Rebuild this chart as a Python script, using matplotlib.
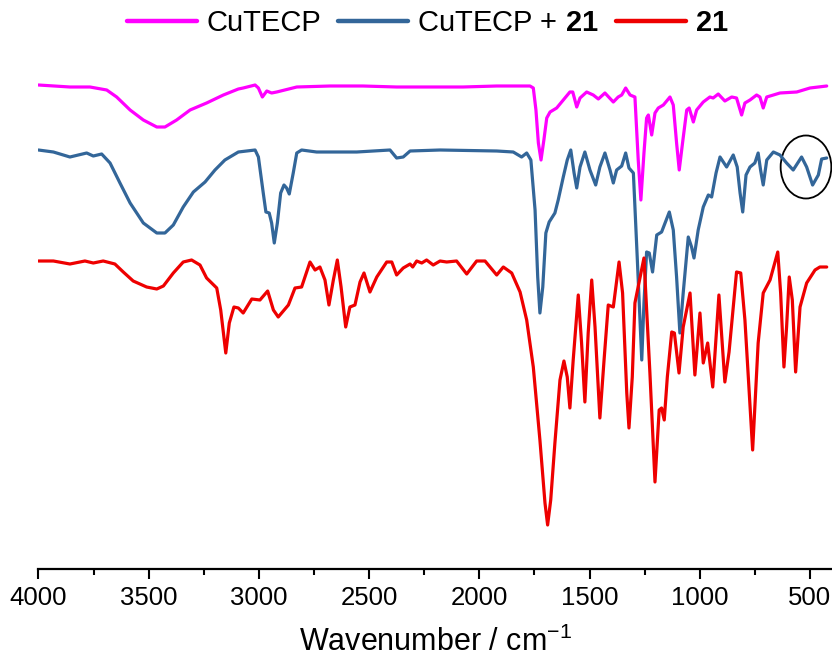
import matplotlib
matplotlib.use("Agg")
import matplotlib.pyplot as plt
from matplotlib.patches import Ellipse

plt.rcParams["font.family"] = ["Liberation Sans", "DejaVu Sans"]
plt.rcParams["mathtext.fontset"] = "custom"
plt.rcParams["mathtext.rm"] = "Liberation Sans"
plt.rcParams["mathtext.bf"] = "Liberation Sans:bold"

# ── Spectra (wavenumber / cm-1, transmittance in offset arbitrary units) ─────
cutecp_wn = [4000, 3857, 3766, 3690, 3645, 3584, 3524, 3463, 3426, 3373, 3312,
             3237, 3161, 3093, 3071, 3017, 3002, 2984, 2964, 2942, 2919, 2828,
             2677, 2528, 2375, 2178, 2074, 1921, 1770, 1755, 1743, 1732, 1720,
             1707, 1694, 1679, 1649, 1619, 1589, 1576, 1558, 1543, 1513, 1483,
             1460, 1430, 1392, 1370, 1354, 1336, 1316, 1294, 1279, 1267, 1253,
             1241, 1233, 1218, 1203, 1188, 1165, 1135, 1120, 1105, 1093, 1078,
             1059, 1048, 1029, 1014, 984, 954, 939, 916, 886, 855, 833, 810,
             795, 772, 742, 727, 712, 696, 636, 560, 500, 424]
cutecp_t = [484, 482, 482, 479, 472, 459, 449, 442, 442, 449, 459,
            466, 474, 480, 481, 484, 481, 472, 478, 476, 477, 482,
            483, 483, 482, 482, 482, 483, 483, 481, 459, 426, 409,
            429, 451, 457, 461, 469, 477, 477, 462, 471, 477, 474,
            470, 476, 467, 472, 474, 481, 474, 472, 409, 369, 416,
            451, 454, 434, 456, 461, 464, 472, 464, 426, 399, 426,
            459, 461, 447, 459, 467, 472, 471, 475, 468, 472, 471, 454,
            466, 469, 474, 472, 461, 472, 476, 477, 481, 483]

mix_wn = [4000, 3932, 3857, 3781, 3751, 3713, 3675, 3630, 3584, 3524, 3463,
          3426, 3388, 3343, 3297, 3244, 3199, 3154, 3093, 3017, 3002, 2980,
          2968, 2953, 2942, 2930, 2916, 2901, 2886, 2874, 2862, 2844, 2828,
          2806, 2738, 2556, 2405, 2375, 2345, 2314, 2178, 1921, 1846, 1808,
          1785, 1766, 1747, 1735, 1725, 1712, 1698, 1683, 1657, 1642, 1619,
          1601, 1585, 1570, 1558, 1543, 1521, 1498, 1472, 1453, 1430, 1407,
          1392, 1377, 1354, 1336, 1321, 1301, 1283, 1263, 1253, 1241, 1229,
          1214, 1195, 1173, 1138, 1120, 1105, 1090, 1075, 1052, 1037, 1026,
          1007, 984, 961, 946, 926, 908, 878, 848, 830, 817, 805, 790, 772,
          750, 735, 724, 712, 696, 666, 636, 606, 576, 538, 515, 488, 462,
          447, 424]
mix_t = [419, 417, 412, 416, 413, 415, 406, 386, 366, 346, 336,
         336, 344, 362, 377, 387, 399, 409, 417, 419, 412, 376,
         357, 356, 346, 326, 346, 376, 384, 381, 375, 396, 416,
         419, 417, 417, 419, 411, 412, 418, 419, 418, 417, 412,
         416, 409, 359, 292, 256, 282, 336, 347, 356, 369, 392,
         409, 419, 396, 381, 402, 417, 399, 384, 402, 416, 399,
         386, 399, 403, 416, 401, 396, 309, 209, 266, 317, 316,
         297, 334, 337, 357, 339, 292, 236, 276, 332, 322, 311,
         339, 362, 374, 372, 396, 412, 402, 414, 402, 376, 357, 394, 402,
         406, 416, 399, 384, 409, 417, 414, 406, 399, 412, 402, 384, 394,
         410, 411]

lig_wn = [4000, 3932, 3857, 3789, 3751, 3706, 3653, 3615, 3570, 3509, 3463,
          3433, 3388, 3343, 3305, 3267, 3237, 3191, 3173, 3150, 3134, 3113,
          3093, 3071, 3032, 2995, 2960, 2934, 2912, 2866, 2836, 2806, 2768,
          2745, 2723, 2700, 2682, 2662, 2644, 2627, 2606, 2587, 2564, 2541,
          2523, 2496, 2465, 2420, 2397, 2375, 2345, 2314, 2302, 2284, 2261,
          2239, 2209, 2178, 2148, 2103, 2057, 2012, 1974, 1921, 1891, 1853,
          1815, 1785, 1755, 1725, 1702, 1690, 1676, 1657, 1634, 1616, 1601,
          1589, 1574, 1551, 1536, 1521, 1506, 1490, 1475, 1453, 1434, 1415,
          1392, 1366, 1350, 1331, 1321, 1306, 1294, 1253, 1226, 1203, 1184,
          1173, 1161, 1147, 1127, 1115, 1094, 1075, 1044, 1022, 999, 984,
          964, 941, 913, 886, 867, 833, 814, 795, 760, 735, 712, 681, 646,
          633, 618, 606, 594, 580, 565, 545, 515, 477, 455, 424]
lig_t = [308, 308, 305, 308, 306, 308, 305, 297, 288, 282, 280,
         283, 296, 307, 309, 304, 291, 281, 259, 216, 246, 262,
         261, 256, 270, 269, 278, 259, 252, 264, 281, 282, 307,
         299, 302, 289, 264, 289, 309, 282, 242, 262, 264, 287,
         296, 277, 292, 307, 307, 294, 301, 305, 302, 308, 306,
         309, 304, 308, 307, 308, 295, 308, 308, 294, 302, 296,
         277, 249, 202, 129, 66, 44, 69, 126, 189, 208, 192,
         161, 209, 274, 226, 167, 236, 289, 242, 151, 209, 264,
         262, 307, 276, 176, 141, 192, 266, 311, 196, 87, 159,
         161, 149, 192, 237, 236, 196, 242, 276, 194, 256, 206,
         226, 182, 274, 187, 217, 297, 296, 249, 119, 226, 276, 289, 317,
         276, 202, 242, 292, 269, 197, 262, 286, 299, 302, 302]

series_labels = ["CuTECP", "CuTECP + $\\mathbf{21}$", "$\\mathbf{21}$"]
series_colors = ["#FF00FF", "#336699", "#EE0000"]

# ── Figure ───────────────────────────────────────────────────────────────────
fig = plt.figure(figsize=(8.32, 6.6), dpi=100)
ax = fig.add_axes([38.4 / 832, 91 / 660, 1 - 38.4 / 832, 529 / 660])

lines = []
for wn, t, lab, col in zip([cutecp_wn, mix_wn, lig_wn],
                           [cutecp_t, mix_t, lig_t],
                           series_labels, series_colors):
    ln, = ax.plot(wn, t, color=col, lw=2.3, label=lab,
                  solid_joinstyle="round", solid_capstyle="round")
    lines.append(ln)

# circled band in the mixture spectrum
ax.add_patch(Ellipse((518, 402), 230, 63, fill=False, ec="black", lw=1.3))

ax.set_xlim(4000, 400)
ax.set_ylim(0, 529)
ax.set_xticks([4000, 3500, 3000, 2500, 2000, 1500, 1000, 500])
ax.set_xticks(range(3750, 400, -500), minor=True)
ax.set_yticks([])
for side in ("left", "right", "top"):
    ax.spines[side].set_visible(False)
ax.spines["bottom"].set_linewidth(1.6)
ax.tick_params(axis="x", which="major", length=7, width=1.5, labelsize=18.5,
               pad=5)
ax.tick_params(axis="x", which="minor", length=4, width=1.5)
ax.set_xlabel("Wavenumber / cm$^{-1}$", fontsize=22, labelpad=12)

leg = fig.legend(handles=lines, loc="center", ncol=3,
                 bbox_to_anchor=(428 / 832, 1 - 23 / 660),
                 frameon=False, fontsize=21, handlelength=2.4,
                 handletextpad=0.3, columnspacing=0.6, borderpad=0)
for h in leg.legend_handles:
    h.set_linewidth(3.2)

fig.savefig("out.png", dpi=100)
